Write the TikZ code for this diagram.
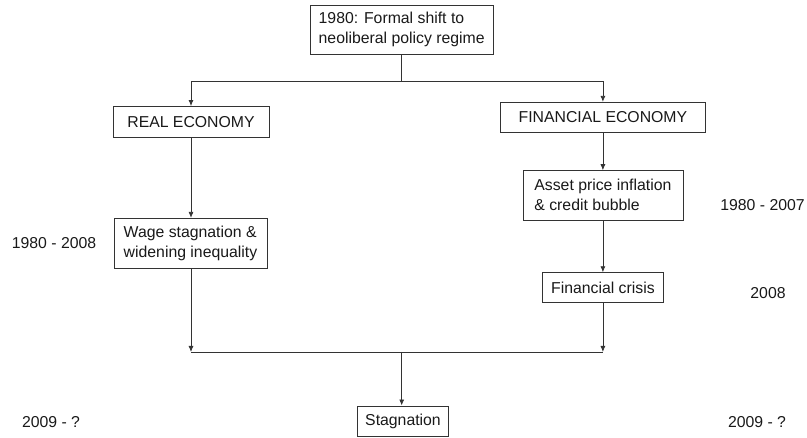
\documentclass[tikz,border=0pt]{standalone}
\usepackage{fontspec}
\setmainfont{Liberation Sans}
\usetikzlibrary{arrows.meta}

\begin{document}
\begin{tikzpicture}[x=1pt,y=-1pt,
  every node/.style={font=\fontsize{15.8}{20}\selectfont,text=black!90},
  box/.style={draw=black!80,line width=0.8pt,rectangle,inner sep=0pt,align=left},
  years/.style={inner sep=0pt},
  arr/.style={draw=black!80,line width=0.8pt,-{Latex[length=6pt,width=5pt]}},
  lin/.style={draw=black!80,line width=0.8pt}]

    \useasboundingbox (0,0) rectangle (807,438);

    % top of the tree
    \node[box,minimum width=183,minimum height=49] (shift) at (401.7,29.7) {1980: Formal shift to\\neoliberal policy regime};
    \coordinate (split) at (401.7,81);

    % real side
    \node[box,minimum width=156,minimum height=31] (real) at (191,122) {REAL ECONOMY};
    \node[box,minimum width=153,minimum height=50] (wage) at (190.5,243.3) {Wage stagnation \&\\widening inequality};

    % financial side
    \node[box,minimum width=205.7,minimum height=30.4] (fin) at (602.9,117.5) {FINANCIAL ECONOMY};
    \node[box,minimum width=160,minimum height=49.3] (asset) at (602.9,195.3) {Asset price inflation\\\& credit bubble};
    \node[box,minimum width=120.6,minimum height=29.6] (crisis) at (602.9,287.5) {Financial crisis};

    % bottom
    \coordinate (join) at (401.7,352);
    \node[box,minimum width=90.6,minimum height=30.7] (stag) at (403,421.3) {Stagnation};

    % dates
    \node[years] (y1) at (54,243) {1980 - 2008};
    \node[years] (y2) at (762.5,205) {1980 - 2007};
    \node[years] (y3) at (768,292.7) {2008};
    \node[years] (y4) at (51,421.7) {2009 - ?};
    \node[years] (y5) at (757,421.7) {2009 - ?};

    \draw[lin] (shift) -- (split);
    \draw[arr] (split) -| (real);
    \draw[arr] (split) -| (fin);
    \draw[arr] (real) -- (wage.north -| real);
    \draw[arr] (fin) -- (asset);
    \draw[arr] (asset) -- (crisis);
    \draw[arr] (wage.south -| real) -- (join -| real);
    \draw[arr] (crisis) -- (join -| crisis);
    \draw[lin] (join -| real) -- (join -| crisis);
    \draw[arr] (join) -- (join |- stag.north);
\end{tikzpicture}
\end{document}
